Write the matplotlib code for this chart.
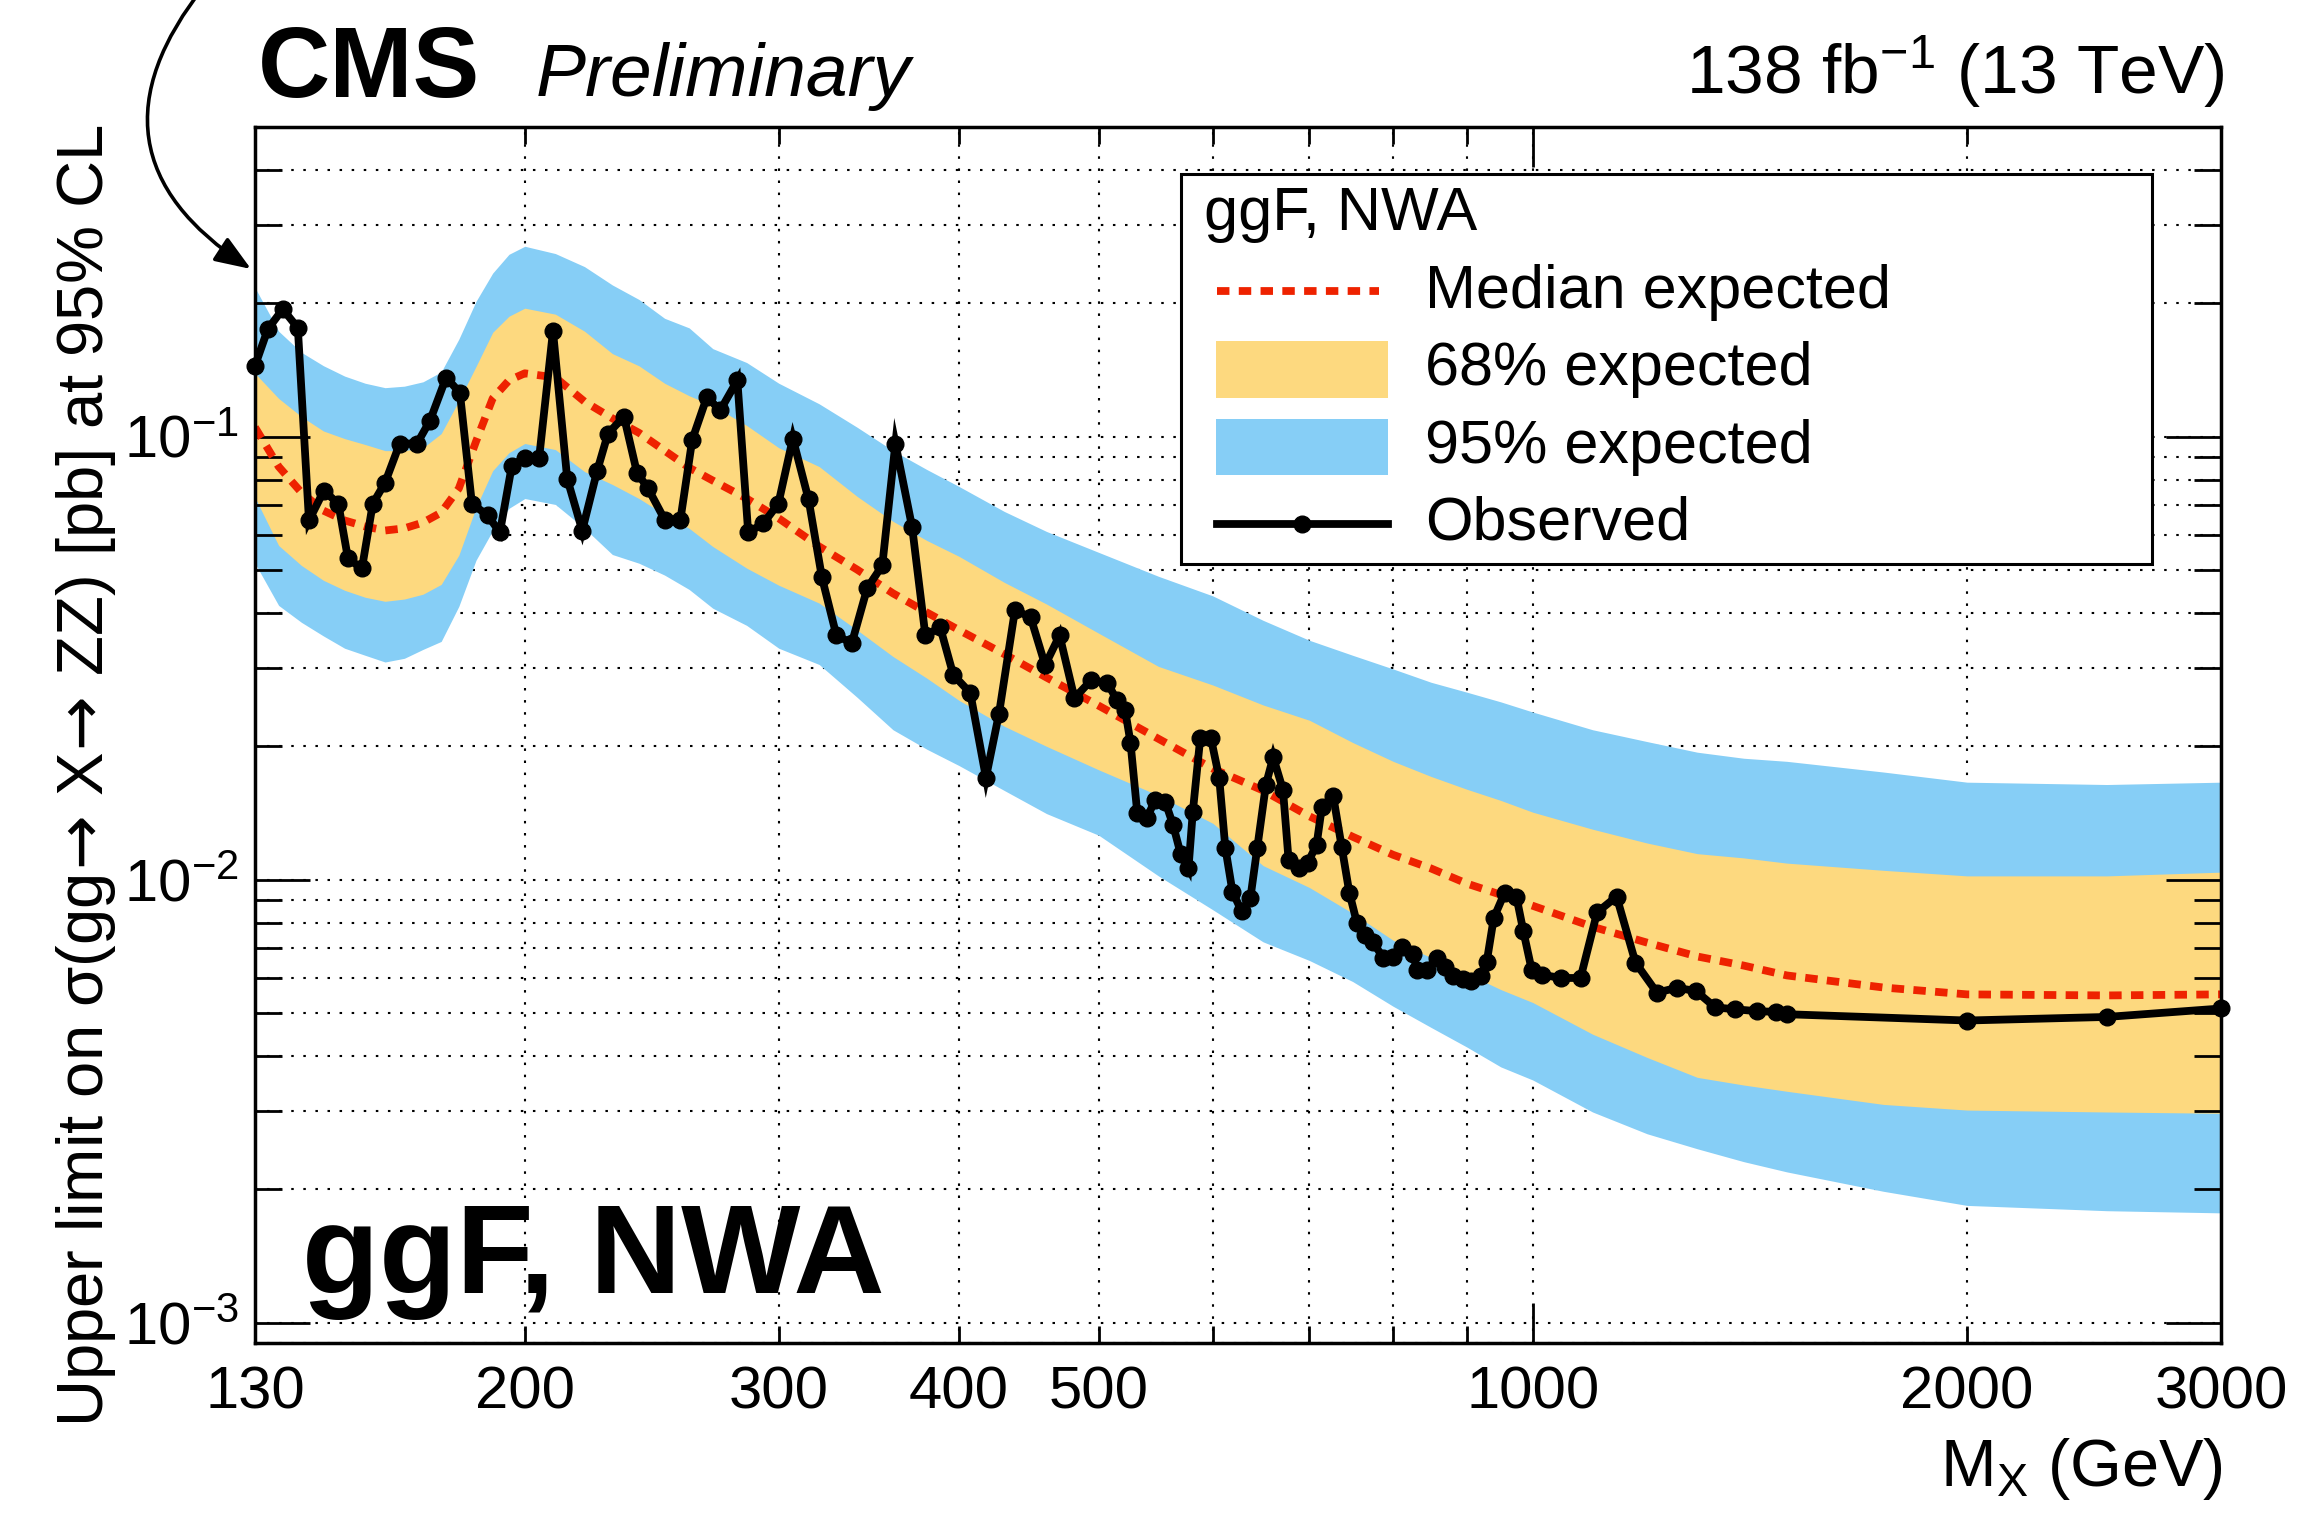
import numpy as np
import matplotlib
matplotlib.use("Agg")
import matplotlib.pyplot as plt
from matplotlib.ticker import (FixedLocator, NullFormatter, LogLocator,
                               LogFormatterSciNotation, FuncFormatter)
from matplotlib.patches import Rectangle, FancyArrowPatch
from matplotlib.lines import Line2D

plt.rcParams['font.family'] = ['Liberation Sans', 'DejaVu Sans']
plt.rcParams['mathtext.fontset'] = 'custom'
plt.rcParams['mathtext.rm'] = 'Liberation Sans'
plt.rcParams['mathtext.it'] = 'Liberation Sans:italic'
plt.rcParams['mathtext.bf'] = 'Liberation Sans:bold'
plt.rcParams['mathtext.sf'] = 'DejaVu Sans'

# ---------------- data ----------------
band_mass = [130, 135, 140, 145, 150, 155, 160, 165, 170, 175, 180, 185, 190, 195,
             200, 210, 220, 230, 240, 250, 260, 270, 285, 300, 320, 340, 360, 380,
             400, 430, 460, 500, 550, 600, 650, 700, 750, 800, 850, 900, 950, 1000,
             1100, 1200, 1300, 1400, 1500, 1750, 2000, 2500, 3000]

exp_median = [0.105, 0.0856, 0.0748, 0.0681, 0.0647, 0.0627, 0.0614, 0.0621, 0.064, 0.0674,
              0.0764, 0.0975, 0.122, 0.134, 0.139, 0.136, 0.120, 0.110, 0.102, 0.093,
              0.0851, 0.0796, 0.0725, 0.0654, 0.0565, 0.0501, 0.0443, 0.0401, 0.0366, 0.0323,
              0.0286, 0.0247, 0.0208, 0.0178, 0.0159, 0.0139, 0.0125, 0.01138, 0.0106, 0.0098,
              0.00925, 0.00873, 0.00783, 0.00721, 0.00671, 0.0064, 0.00608, 0.00571, 0.00551,
              0.00548, 0.00551]

exp_1sig_hi = [0.139, 0.122, 0.111, 0.103, 0.099, 0.096, 0.093, 0.093, 0.0944, 0.1016,
               0.1205, 0.144, 0.172, 0.187, 0.195, 0.189, 0.173, 0.154, 0.1445, 0.132,
               0.1237, 0.1175, 0.106, 0.0944, 0.0856, 0.0733, 0.0644, 0.0583, 0.0537, 0.0469,
               0.0419, 0.0360, 0.0303, 0.0275, 0.0248, 0.0229, 0.0204, 0.0185, 0.0171, 0.0160,
               0.0151, 0.0142, 0.0130, 0.0121, 0.01145, 0.0112, 0.0109, 0.0105, 0.0102,
               0.0102, 0.0104]

exp_1sig_lo = [0.0729, 0.0568, 0.0512, 0.0474, 0.045, 0.0434, 0.0425, 0.043, 0.0441, 0.0464,
               0.054, 0.0692, 0.0838, 0.092, 0.0965, 0.0935, 0.0834, 0.078, 0.0725, 0.0667,
               0.0621, 0.0565, 0.0505, 0.0462, 0.0421, 0.0366, 0.0319, 0.0285, 0.0254, 0.0222,
               0.020, 0.0177, 0.0155, 0.0134, 0.01076, 0.0096, 0.0084, 0.0073, 0.00667, 0.00614,
               0.00565, 0.00528, 0.00448, 0.00397, 0.00358, 0.00344, 0.00333, 0.00311, 0.00302,
               0.00299, 0.00297]

exp_2sig_hi = [0.217, 0.173, 0.155, 0.1446, 0.137, 0.132, 0.129, 0.130, 0.133, 0.140,
               0.166, 0.202, 0.234, 0.258, 0.269, 0.259, 0.242, 0.220, 0.204, 0.185,
               0.176, 0.158, 0.147, 0.132, 0.1186, 0.105, 0.093, 0.0843, 0.0772, 0.0678,
               0.0611, 0.0548, 0.0484, 0.0437, 0.0385, 0.0347, 0.0321, 0.0299, 0.0279, 0.0265,
               0.0252, 0.0239, 0.0218, 0.0205, 0.0194, 0.0188, 0.0185, 0.0175, 0.0166,
               0.0164, 0.0166]

exp_2sig_lo = [0.0518, 0.0416, 0.0381, 0.0355, 0.0333, 0.0321, 0.031, 0.0316, 0.0331, 0.0345,
               0.0414, 0.0526, 0.0614, 0.0689, 0.0725, 0.0703, 0.0621, 0.0542, 0.0518, 0.0487,
               0.0452, 0.041, 0.0375, 0.0333, 0.0306, 0.0258, 0.0218, 0.0197, 0.0181, 0.0159,
               0.0141, 0.0126, 0.0102, 0.00855, 0.00724, 0.00657, 0.00589, 0.00518, 0.00464,
               0.00419, 0.00378, 0.00353, 0.00299, 0.00267, 0.00247, 0.00231, 0.00219, 0.00198,
               0.00184, 0.00179, 0.00177]

obs_mass = [130, 132.7, 135.9, 139.2, 141.7, 145.1, 148.5, 150.8, 154.2, 156.9,
            160, 163.8, 168.4, 171.9, 176.4, 180.3, 183.8, 188.5, 192.2, 195.9,
            200, 204.6, 209.2, 214, 219.2, 224.5, 228.4, 234.3, 239.2, 243.5,
            250.2, 256.4, 261.3, 267.5, 273.2, 280.8, 285.7, 292.7, 299.8, 306.8,
            314.6, 321.4, 328.9, 337.1, 345.5, 353.9, 361.4, 371.2, 379.1, 388.2,
            396.4, 407.3, 417.6, 426.4, 437.4, 448.5, 459, 469.7, 481, 494,
            507, 514.8, 521.6, 526, 531.7, 540, 547, 556, 563, 570,
            577, 581, 588, 598, 606, 612, 619, 628, 637, 644,
            653, 660.6, 671, 677, 688, 698, 708, 714, 727, 737,
            746, 755, 765, 774.6, 787.5, 800, 812, 826, 831, 844,
            858, 869, 880, 894, 906, 920, 929, 939.5, 956, 974,
            985, 998, 1015, 1046, 1079, 1108, 1143, 1178, 1219, 1258,
            1297, 1338, 1380, 1430, 1475, 1500, 2000, 2500, 3000]

obs_limit = [0.1445, 0.175, 0.194, 0.176, 0.0647, 0.0755, 0.0706, 0.0531, 0.0504, 0.0706,
             0.0787, 0.0965, 0.0965, 0.1087, 0.136, 0.1257, 0.0706, 0.0664, 0.0608, 0.086,
             0.0897, 0.0893, 0.173, 0.0804, 0.0614, 0.0838, 0.1016, 0.111, 0.083, 0.0764,
             0.0647, 0.065, 0.0985, 0.123, 0.1146, 0.134, 0.0608, 0.0637, 0.0706, 0.099,
             0.0722, 0.0481, 0.0356, 0.0342, 0.0455, 0.0512, 0.0965, 0.0624, 0.0356, 0.0371,
             0.029, 0.0264, 0.017, 0.0237, 0.0406, 0.0391, 0.0305, 0.0356, 0.0257, 0.0282,
             0.0278, 0.0254, 0.0241, 0.0204, 0.01417, 0.0138, 0.0151, 0.015, 0.0133, 0.0114,
             0.0106, 0.0142, 0.0209, 0.0209, 0.017, 0.0118, 0.0094, 0.0085, 0.0091, 0.0118,
             0.0164, 0.0189, 0.01595, 0.0111, 0.01064, 0.0109, 0.012, 0.0146, 0.01545, 0.01186,
             0.00935, 0.008, 0.00752, 0.00722, 0.00667, 0.0067, 0.00706, 0.0068, 0.00627, 0.00625,
             0.00667, 0.00635, 0.00605, 0.00596, 0.0059, 0.00605, 0.00653, 0.0082, 0.00935, 0.00916,
             0.00764, 0.00627, 0.0061, 0.006, 0.006, 0.00844, 0.00916, 0.0065, 0.00556, 0.0057,
             0.00561, 0.00515, 0.0051, 0.00505, 0.00503, 0.00497, 0.00481, 0.0049, 0.00512]

x_tick_labels = [130, 200, 300, 400, 500, 1000, 2000, 3000]
x_minor_ticks = [600, 700, 800, 900]
x_grid = [200, 300, 400, 500, 600, 700, 800, 900, 1000, 2000]

legend_title = "ggF, NWA"
legend_labels = ["Median expected", "68% expected", "95% expected", "Observed"]

# ---------------- styles ----------------
BLUE = '#86CEF6'
YELLOW = '#FDD97F'
RED = '#EE2200'
OBS_LW = 5.6
OBS_MS = 12
MED_LW = 5.6

W, H = 2306, 1513
fig = plt.figure(figsize=(W / 100, H / 100), dpi=100)


def fx(X):
    return X / W


def fy(Y):
    return 1 - Y / H


pos = [fx(255), fy(1343), 1966 / W, 1216 / H]

# background axes: grid only
gax = fig.add_axes(pos, zorder=0)
ax = fig.add_axes(pos, zorder=1)
ax.patch.set_visible(False)

for a in (gax, ax):
    a.set_xscale('log')
    a.set_yscale('log')
    a.set_xlim(130, 3000)
    a.set_ylim(9e-4, 0.5)

gax.xaxis.set_major_locator(FixedLocator(x_grid))
gax.xaxis.set_minor_locator(FixedLocator([]))
gax.yaxis.set_major_locator(LogLocator(base=10, subs=np.arange(1, 10), numticks=40))
gax.yaxis.set_minor_locator(FixedLocator([]))
gax.grid(True, which='major', color='black', lw=1.5, ls=(0, (1.2, 4.6)))
gax.tick_params(which='both', length=0, labelbottom=False, labelleft=False)
for s in gax.spines.values():
    s.set_visible(False)

# bands and lines
ax.fill_between(band_mass, exp_2sig_lo, exp_2sig_hi, color=BLUE, lw=0, zorder=1)
ax.fill_between(band_mass, exp_1sig_lo, exp_1sig_hi, color=YELLOW, lw=0, zorder=1.1)
ax.plot(band_mass, exp_median, color=RED, lw=MED_LW, ls=(0, (1.6, 1.2)),
        dash_capstyle='butt', zorder=2)
ax.plot(obs_mass, obs_limit, color='black', lw=OBS_LW, marker='o', ms=OBS_MS,
        solid_joinstyle='miter', zorder=3, clip_on=False)

# axes ticks
for s in ax.spines.values():
    s.set_linewidth(2.5)
ax.xaxis.set_major_locator(FixedLocator(x_tick_labels))
ax.xaxis.set_major_formatter(FuncFormatter(lambda v, p: f"{v:g}"))
ax.xaxis.set_minor_locator(FixedLocator(x_minor_ticks))
ax.xaxis.set_minor_formatter(NullFormatter())
ax.yaxis.set_major_locator(LogLocator(base=10, numticks=10))
ax.yaxis.set_major_formatter(LogFormatterSciNotation())
ax.yaxis.set_minor_locator(LogLocator(base=10, subs=np.arange(2, 10), numticks=40))
ax.yaxis.set_minor_formatter(NullFormatter())

ax.tick_params(which='both', direction='in', top=True, right=True, width=2,
               labelsize=43)
ax.tick_params(axis='x', which='both', length=12, pad=16)
ax.tick_params(axis='y', which='major', length=39.6, pad=12)
ax.tick_params(axis='y', which='minor', length=19.4)

for t, loc in zip(ax.xaxis.get_major_ticks(), ax.xaxis.get_majorticklocs()):
    if loc == 1000:
        t.tick1line.set_markersize(29)
        t.tick2line.set_markersize(29)

# ---------------- texts ----------------
fig.text(fx(258), fy(97), 'CMS', fontsize=72, fontweight='bold', va='baseline', ha='left')
fig.text(fx(536), fy(96), 'Preliminary', fontsize=54, style='italic', va='baseline', ha='left')
fig.text(fx(2225), fy(94), r'138 fb$^{-1}$ (13 TeV)', fontsize=50, va='baseline', ha='right')
fig.text(fx(86), fy(776),
         r'Upper limit on σ(gg$\!\mathsf{\rightarrow}\!$ X$\!\mathsf{\rightarrow}\!$ ZZ) [pb] at 95% CL',
         rotation=90, fontsize=47, ha='center', va='center')
fig.text(fx(2223), fy(1486), r'M$_{\mathrm{X}}$ (GeV)', fontsize=48, ha='right', va='baseline')
fig.text(fx(302), fy(1293), legend_title, fontsize=91, fontweight='bold', va='baseline',
         ha='left', zorder=6)

# ---------------- legend ----------------
fig.add_artist(Rectangle((fx(1181), fy(564)), (2152 - 1181) / W, (564 - 174) / H,
                         transform=fig.transFigure, facecolor='white', edgecolor='black',
                         lw=2.2, zorder=10))
fig.text(fx(1204), fy(230), legend_title, fontsize=44, va='baseline', ha='left', zorder=11)
baselines = [308, 385, 463, 540]
for lab, b in zip(legend_labels, baselines):
    fig.text(fx(1425), fy(b), lab, fontsize=44, va='baseline', ha='left', zorder=11)

fig.add_artist(Line2D([fx(1217), fx(1379)], [fy(291), fy(291)], transform=fig.transFigure,
                      color=RED, lw=MED_LW, ls=(0, (1.6, 1.2)), dash_capstyle='butt', zorder=11))
fig.add_artist(Rectangle((fx(1216), fy(398)), (1388 - 1216) / W, (398 - 341) / H,
                         transform=fig.transFigure, facecolor=YELLOW, edgecolor='none', zorder=11))
fig.add_artist(Rectangle((fx(1216), fy(475)), (1388 - 1216) / W, (475 - 419) / H,
                         transform=fig.transFigure, facecolor=BLUE, edgecolor='none', zorder=11))
fig.add_artist(Line2D([fx(1217), fx(1388)], [fy(524), fy(524)], transform=fig.transFigure,
                      color='black', lw=OBS_LW, zorder=11))
fig.add_artist(Line2D([fx(1302)], [fy(524)], transform=fig.transFigure, color='black',
                      marker='o', ms=OBS_MS, lw=0, zorder=12))

# ---------------- curved arrow ----------------
arrow = FancyArrowPatch(posA=(fx(205), fy(-15)), posB=(fx(251), fy(269)),
                        transform=fig.transFigure,
                        connectionstyle='arc3,rad=0.55',
                        arrowstyle='-|>,head_length=1.1,head_width=0.42',
                        mutation_scale=20, lw=2.6, color='black',
                        shrinkA=0, shrinkB=0, zorder=20)
fig.add_artist(arrow)

fig.savefig('out.png', dpi=100)
